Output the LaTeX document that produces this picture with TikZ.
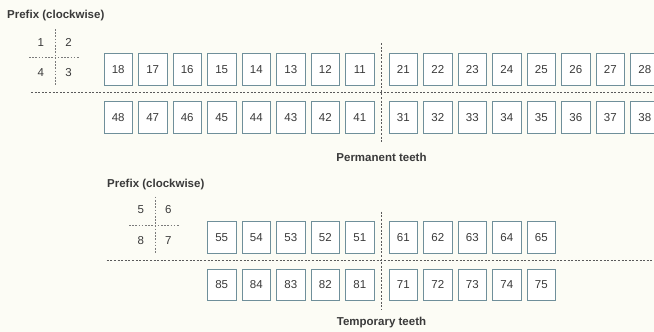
\documentclass[tikz,border=0pt]{standalone}
\usepackage{fontspec}
\setmainfont{Liberation Sans}
\usepackage{xcolor}
\usetikzlibrary{positioning}
\definecolor{paper}{HTML}{FCFCF5}
\definecolor{toothline}{HTML}{6F8F9A}
\definecolor{ink}{HTML}{3A3A3A}
\definecolor{rule}{HTML}{5A5A5A}

\tikzset{
    tooth/.style={rectangle, draw=toothline, line width=0.9pt, fill=white, minimum width=28.5pt, minimum height=31.5pt, inner sep=0pt, font=\fontsize{11.5}{13}\selectfont, text=ink},
    quad/.style={font=\fontsize{11.5}{13}\selectfont, text=ink, inner sep=0pt},
    heading/.style={font=\fontsize{11.5}{13}\selectfont\bfseries, text=ink, inner sep=0pt},
    midline/.style={rule, line width=0.6pt, dash pattern=on 2pt off 1.6pt},
    crossline/.style={rule!80, line width=0.6pt, dash pattern=on 1.6pt off 1.6pt}
}

\begin{document}
\begin{tikzpicture}[x=1pt, y=-1pt]
    \fill[paper] (0,0) rectangle (654,332);
    \useasboundingbox (0,0) rectangle (654,332);
    \clip (0,0) rectangle (654,332);

    % permanent teeth
    \node[heading, anchor=west] (permprefix) at (7,16) {Prefix (clockwise)};
    \node[quad] (q1) at (40.7,42.3) {1};
    \node[quad] (q2) at (68.5,42.3) {2};
    \node[quad] (q4) at (40.7,72.3) {4};
    \node[quad] (q3) at (68.5,72.3) {3};
    \draw[crossline] (55,29) -- (55,85);
    \draw[crossline] (29,57.3) -- (80,57.3);

    \foreach \n [count=\i from 0] in {18,17,16,15,14,13,12,11}
        \node[tooth] (t\n) at (118.25+34.5*\i,69.5) {\n};
    \foreach \n [count=\i from 0] in {21,22,23,24,25,26,27,28}
        \node[tooth] (t\n) at (403.25+34.5*\i,69.5) {\n};
    \foreach \n [count=\i from 0] in {48,47,46,45,44,43,42,41}
        \node[tooth] (t\n) at (118.25+34.5*\i,117.5) {\n};
    \foreach \n [count=\i from 0] in {31,32,33,34,35,36,37,38}
        \node[tooth] (t\n) at (403.25+34.5*\i,117.5) {\n};

    \draw[midline] (31,92.7) -- (654,92.7);
    \draw[midline] (381.5,43) -- (381.5,143);
    \node[heading] (permlabel) at (381.5,157) {Permanent teeth};

    % temporary teeth
    \node[heading, anchor=west] (tempprefix) at (107,185) {Prefix (clockwise)};
    \node[quad] (q5) at (140.7,210) {5};
    \node[quad] (q6) at (168.3,210) {6};
    \node[quad] (q8) at (140.7,241) {8};
    \node[quad] (q7) at (168.3,241) {7};
    \draw[crossline] (155,196.7) -- (155,252.7);
    \draw[crossline] (129,225) -- (180,225);

    \foreach \n [count=\i from 3] in {55,54,53,52,51}
        \node[tooth] (t\n) at (118.25+34.5*\i,237.5) {\n};
    \foreach \n [count=\i from 0] in {61,62,63,64,65}
        \node[tooth] (t\n) at (403.25+34.5*\i,237.5) {\n};
    \foreach \n [count=\i from 3] in {85,84,83,82,81}
        \node[tooth] (t\n) at (118.25+34.5*\i,284.8) {\n};
    \foreach \n [count=\i from 0] in {71,72,73,74,75}
        \node[tooth] (t\n) at (403.25+34.5*\i,284.8) {\n};

    \draw[midline] (106.7,260.7) -- (652,260.7);
    \draw[midline] (381.5,211.7) -- (381.5,309);
    \node[heading] (templabel) at (381.5,323) {Temporary teeth};
\end{tikzpicture}
\end{document}
